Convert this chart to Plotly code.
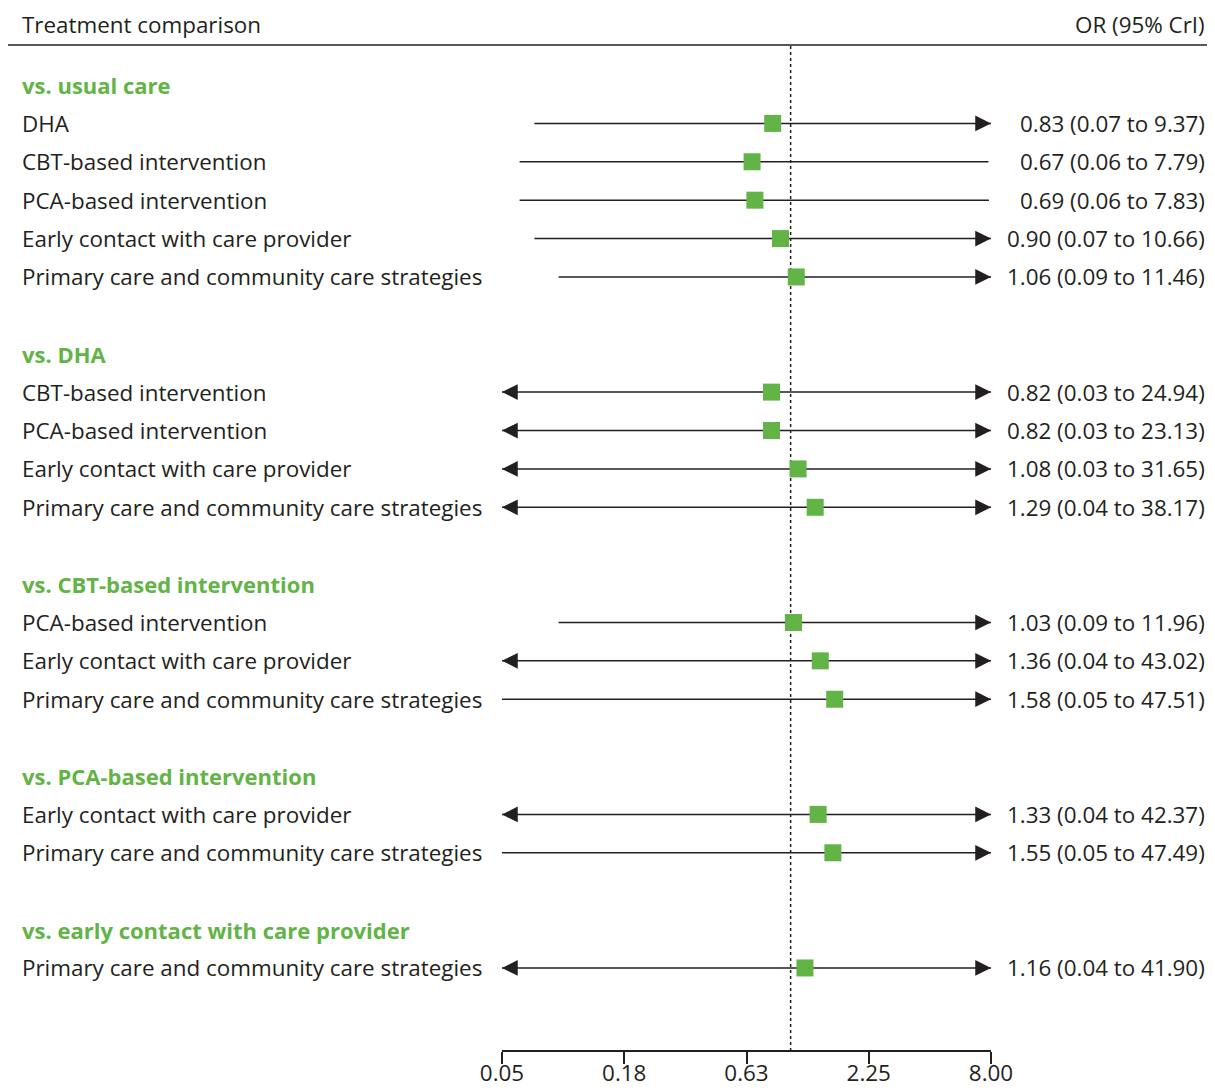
import math
import plotly.graph_objects as go

# ---------------- data ----------------
groups = ["vs. usual care", "vs. DHA", "vs. CBT-based intervention",
          "vs. PCA-based intervention", "vs. early contact with care provider"]
group_sizes = [5, 4, 3, 2, 1]
comparisons = [
    "DHA", "CBT-based intervention", "PCA-based intervention",
    "Early contact with care provider", "Primary care and community care strategies",
    "CBT-based intervention", "PCA-based intervention",
    "Early contact with care provider", "Primary care and community care strategies",
    "PCA-based intervention", "Early contact with care provider",
    "Primary care and community care strategies",
    "Early contact with care provider", "Primary care and community care strategies",
    "Primary care and community care strategies",
]
or_est = [0.83, 0.67, 0.69, 0.90, 1.06,
          0.82, 0.82, 1.08, 1.29,
          1.03, 1.36, 1.58,
          1.33, 1.55,
          1.16]
ci_low = [0.07, 0.06, 0.06, 0.07, 0.09,
          0.03, 0.03, 0.03, 0.04,
          0.09, 0.04, 0.05,
          0.04, 0.05,
          0.04]
ci_high = [9.37, 7.79, 7.83, 10.66, 11.46,
           24.94, 23.13, 31.65, 38.17,
           11.96, 43.02, 47.51,
           42.37, 47.49,
           41.90]
tick_vals = [0.05, 0.1778, 0.6325, 2.2494, 8.0]
tick_text = ["0.05", "0.18", "0.63", "2.25", "8.00"]
x_min, x_max = 0.05, 8.0

# ---------------- style ----------------
GREEN = "#62b446"
INK = "#231f20"
FONT = "Open Sans"
FS = 22.4
FS_HEAD = 22
OFF = 8                       # page body margin
W, H = 1215 - 2 * OFF, 1092 - 2 * OFF
AXIS_PX = 1050 - OFF          # bottom of plot area (axis line), figure px
MB = H - AXIS_PX
ROW_PX = 38.39
FIRST_PX = 85                 # viewport px of first row

def px_to_row(p):
    return (p - FIRST_PX) / ROW_PX   # p in viewport pixels

def xp(p):
    return (p - OFF) / W             # viewport pixel -> paper fraction

# ---------------- row layout ----------------
heading_rows, item_rows = [], []
r = 0
for g, n in zip(groups, group_sizes):
    heading_rows.append(r)
    r += 1
    for _ in range(n):
        item_rows.append(r)
        r += 1
    r += 1

fig = go.Figure()

# CI lines (clipped to axis range)
lx, ly = [], []
for lo, hi, yr in zip(ci_low, ci_high, item_rows):
    lx += [min(max(lo, x_min), x_max), min(max(hi, x_min), x_max), None]
    ly += [yr, yr, None]
fig.add_trace(go.Scatter(x=lx, y=ly, mode="lines",
                         line=dict(color=INK, width=1.5),
                         hoverinfo="skip", showlegend=False))

# reference line at OR = 1
fig.add_trace(go.Scatter(x=[1, 1], y=[px_to_row(46), px_to_row(1050)], mode="lines",
                         line=dict(color=INK, width=1.5, dash="3px,3px"),
                         hoverinfo="skip", showlegend=False))

# point estimates
fig.add_trace(go.Scatter(x=or_est, y=item_rows, mode="markers",
                         marker=dict(symbol="square", size=17, color=GREEN, line=dict(width=0)),
                         showlegend=False))

annotations = []
# arrow heads for truncated intervals
for lo, hi, yr in zip(ci_low, ci_high, item_rows):
    if hi > x_max:
        annotations.append(dict(x=math.log10(x_max), y=yr, xref="x", yref="y",
                                ax=-14, ay=0, text="", showarrow=True,
                                arrowhead=2, arrowsize=2.1, arrowwidth=1.5, arrowcolor=INK))
    if lo < x_min:
        annotations.append(dict(x=math.log10(x_min), y=yr, xref="x", yref="y",
                                ax=14, ay=0, text="", showarrow=True,
                                arrowhead=2, arrowsize=2.1, arrowwidth=1.5, arrowcolor=INK))

# headings
for g, yr in zip(groups, heading_rows):
    annotations.append(dict(x=xp(20), y=yr, xref="paper", yref="y", text="<b>" + g + "</b>",
                            xanchor="left", yanchor="middle", showarrow=False,
                            font=dict(family=FONT, size=FS_HEAD, color=GREEN)))
# row labels and values
for lab, est, lo, hi, yr in zip(comparisons, or_est, ci_low, ci_high, item_rows):
    annotations.append(dict(x=xp(20), y=yr, xref="paper", yref="y", text=lab,
                            xanchor="left", yanchor="middle", showarrow=False,
                            font=dict(family=FONT, size=FS, color=INK)))
    annotations.append(dict(x=1, y=yr, xref="paper", yref="y",
                            text=f"{est:.2f} ({lo:.2f} to {hi:.2f})",
                            xanchor="right", yanchor="middle", showarrow=False,
                            font=dict(family=FONT, size=FS, color=INK)))
# column headers
annotations.append(dict(x=xp(20), y=px_to_row(24), xref="paper", yref="y",
                        text="Treatment comparison", xanchor="left", yanchor="middle",
                        showarrow=False, font=dict(family=FONT, size=FS, color=INK)))
annotations.append(dict(x=1, y=px_to_row(24), xref="paper", yref="y",
                        text="OR (95% CrI)", xanchor="right", yanchor="middle",
                        showarrow=False, font=dict(family=FONT, size=FS, color=INK)))

fig.update_layout(
    width=W, height=H,
    margin=dict(l=0, r=0, t=0, b=MB, pad=0, autoexpand=False),
    paper_bgcolor="white", plot_bgcolor="white",
    font=dict(family=FONT, size=FS, color=INK),
    annotations=annotations,
    shapes=[dict(type="line", xref="paper", yref="y", x0=0, x1=1,
                 y0=px_to_row(45), y1=px_to_row(45),
                 line=dict(color=INK, width=1.5))],
    xaxis=dict(type="log", range=[math.log10(x_min), math.log10(x_max)],
               domain=[xp(502), xp(991)],
               tickvals=tick_vals, ticktext=tick_text,
               showline=True, linecolor=INK, linewidth=1.5,
               ticks="outside", ticklen=12, tickwidth=1.5, tickcolor=INK,
               ticklabelstandoff=-10,
               showgrid=False, zeroline=False,
               tickfont=dict(family=FONT, size=FS, color=INK)),
    yaxis=dict(range=[px_to_row(1050), px_to_row(OFF)], visible=False,
               showgrid=False, zeroline=False),
)

fig.write_html("out.html")
